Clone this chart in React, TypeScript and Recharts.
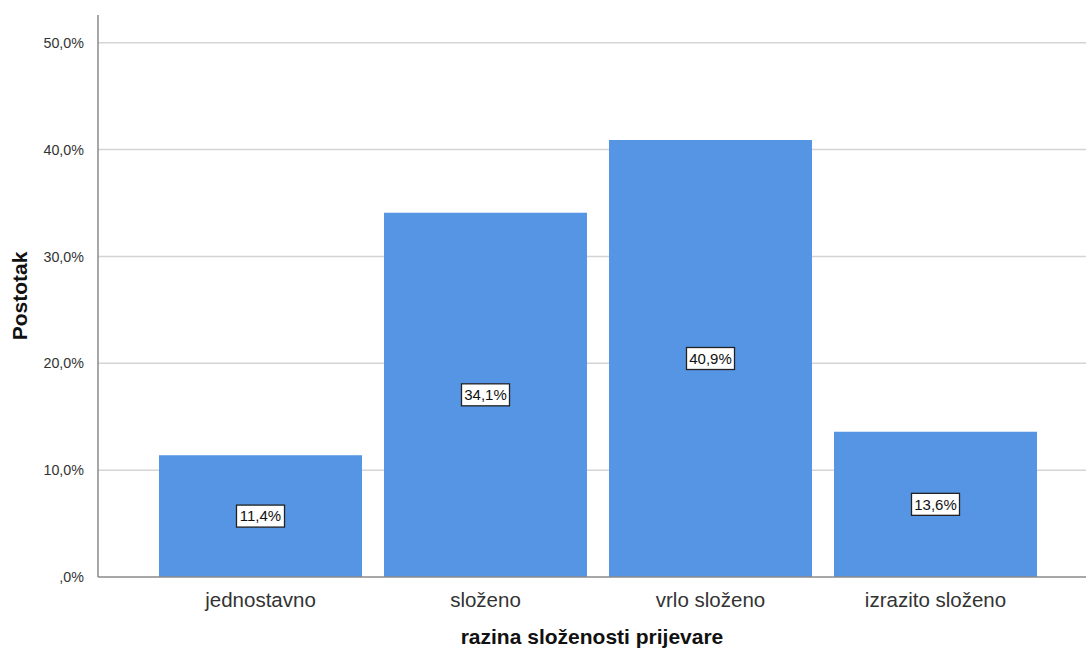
import React from "react";
import { BarChart, Bar, XAxis, YAxis, CartesianGrid, LabelList } from "recharts";

const categories = ["jednostavno", "složeno", "vrlo složeno", "izrazito složeno"];
const percentValues = [11.4, 34.1, 40.9, 13.6];
const yTicks = [0, 10, 20, 30, 40, 50];

const data = categories.map((c, i) => ({ name: c, value: percentValues[i] }));

const FONT = "'Liberation Sans', Arial, sans-serif";

const fmt = (v: number) => {
  const s = v.toFixed(1).replace(".", ",");
  return (s.startsWith("0,") ? s.slice(1) : s) + "%";
};

const BoxLabel = (props: any) => {
  const { x, y, width, height, value } = props;
  const cx = x + width / 2;
  const cy = y + height / 2;
  const w = 48;
  const h = 22;
  return (
    <g>
      <rect x={cx - w / 2} y={cy - h / 2} width={w} height={h} fill="#ffffff" stroke="#222" strokeWidth={1.3} />
      <text x={cx} y={cy + 5.3} textAnchor="middle" fontSize={15} fill="#111" fontFamily={FONT}>
        {fmt(value)}
      </text>
    </g>
  );
};

export default function App() {
  return (
    <div style={{ position: "absolute", left: 0, top: 0, width: 1086, height: 653, background: "#fff" }}>
      <BarChart
        width={1086}
        height={653}
        data={data}
        margin={{ top: 15, right: 0, bottom: 0, left: 0 }}
        barCategoryGap={11}
      >
        <CartesianGrid vertical={false} stroke="#d4d4d4" strokeWidth={1.5} horizontalValues={[10, 20, 30, 40, 50]} />
        <XAxis
          dataKey="name"
          height={76}
          padding={{ left: 50, right: 38 }}
          tickLine={false}
          axisLine={{ stroke: "#8a8a8a", strokeWidth: 1.5 }}
          tick={{ fontSize: 20.5, fill: "#333", fontFamily: FONT }}
          tickMargin={9}
          label={{
            value: "razina složenosti prijevare",
            position: "insideBottom",
            offset: 9,
            style: { fontSize: 21, fontWeight: "bold", fill: "#111", fontFamily: FONT },
          }}
        />
        <YAxis
          width={98}
          domain={[0, 52.6]}
          ticks={yTicks}
          allowDataOverflow
          tickLine={false}
          axisLine={{ stroke: "#8a8a8a", strokeWidth: 1.5 }}
          tickFormatter={fmt}
          tick={{ fontSize: 14.3, fill: "#333", fontFamily: FONT }}
          tickMargin={8}
          label={{
            value: "Postotak",
            angle: -90,
            position: "insideLeft",
            offset: 20,
            style: { textAnchor: "middle", fontSize: 21, fontWeight: "bold", fill: "#111", fontFamily: FONT },
          }}
        />
        <Bar dataKey="value" fill="#5595e3" isAnimationActive={false}>
          <LabelList dataKey="value" content={BoxLabel} />
        </Bar>
      </BarChart>
    </div>
  );
}
